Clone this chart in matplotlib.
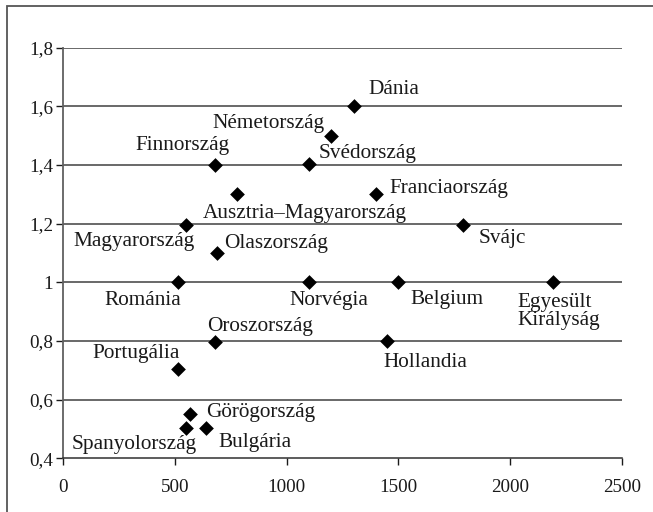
import matplotlib
matplotlib.use("Agg")
import matplotlib.pyplot as plt
from matplotlib.patches import Rectangle

countries = ["Dánia", "Németország", "Finnország", "Svédország", "Ausztria–Magyarország",
             "Franciaország", "Magyarország", "Olaszország", "Svájc", "Románia", "Norvégia",
             "Belgium", "Egyesült\nKirályság", "Hollandia", "Oroszország", "Portugália",
             "Görögország", "Spanyolország", "Bulgária"]
x_vals = [1300, 1200, 680, 1100, 780, 1400, 550, 690, 1790, 515, 1100, 1500, 2190, 1450, 680, 515, 570, 550, 640]
y_vals = [1.6, 1.5, 1.4, 1.405, 1.3, 1.3, 1.195, 1.1, 1.195, 1.0, 1.0, 1.0, 1.0, 0.8, 0.795, 0.705, 0.55, 0.505, 0.505]
x_ticks = [0, 500, 1000, 1500, 2000, 2500]
y_ticks = [0.4, 0.6, 0.8, 1.0, 1.2, 1.4, 1.6, 1.8]
y_tick_labels = ["0,4", "0,6", "0,8", "1", "1,2", "1,4", "1,6", "1,8"]

# label placement: (dx px, dy px, ha)
label_pos = {
    "Dánia": (15, 17, "left"),
    "Németország": (-7, 12, "right"),
    "Finnország": (-33, 20, "center"),
    "Svédország": (10, 10, "left"),
    "Ausztria–Magyarország": (-35, -19, "left"),
    "Franciaország": (13, 6, "left"),
    "Magyarország": (-52, -16, "center"),
    "Olaszország": (7, 9, "left"),
    "Svájc": (15, -13, "left"),
    "Románia": (-35, -18, "center"),
    "Norvégia": (20, -18, "center"),
    "Belgium": (12, -17, "left"),
    "Egyesült\nKirályság": (-35, -29, "left"),
    "Hollandia": (-4, -22, "left"),
    "Oroszország": (-8, 16, "left"),
    "Portugália": (-42, 15, "center"),
    "Görögország": (16, 2, "left"),
    "Spanyolország": (-52, -17, "center"),
    "Bulgária": (12, -15, "left"),
}

plt.rcParams['font.family'] = ['Liberation Serif', 'DejaVu Serif']

fig = plt.figure(figsize=(6.53, 5.12), dpi=100)
fig.patches.append(Rectangle((7/653, -0.1), 1.2, 1 - 5.5/512 + 0.1, transform=fig.transFigure,
                             fill=False, edgecolor="#555555", linewidth=1.3))
ax = fig.add_axes([63/653, 1 - 458.3/512, (622 - 63)/653, (458.3 - 47.7)/512])

for y in y_ticks[1:]:
    ax.axhline(y, color="#404040", linewidth=1.1, zorder=1)

ax.scatter(x_vals, y_vals, marker="D", s=7.5**2, color="black", zorder=3, linewidths=0)

for name, x, y in zip(countries, x_vals, y_vals):
    dx, dy, ha = label_pos[name]
    ax.annotate(name, (x, y), xytext=(dx, dy), textcoords="offset pixels",
                ha=ha, va="center", fontsize=15.3, color="#1a1a1a", linespacing=0.95)

ax.set_xlim(0, 2500)
ax.set_ylim(0.4, 1.8)
ax.set_xticks(x_ticks)
ax.set_xticklabels([str(t) for t in x_ticks])
ax.set_yticks(y_ticks)
ax.set_yticklabels(y_tick_labels)
for s in ["top", "right"]:
    ax.spines[s].set_visible(False)
ax.spines["left"].set_color("#606060")
ax.spines["left"].set_linewidth(1.3)
ax.spines["bottom"].set_color("#303030")
ax.spines["bottom"].set_linewidth(1.1)
ax.tick_params(axis="both", labelsize=13.8, colors="#1a1a1a", length=5, width=1, direction="out")
ax.tick_params(axis="x", pad=10)
ax.tick_params(axis="y", pad=2)

fig.savefig("out.png", dpi=100)
